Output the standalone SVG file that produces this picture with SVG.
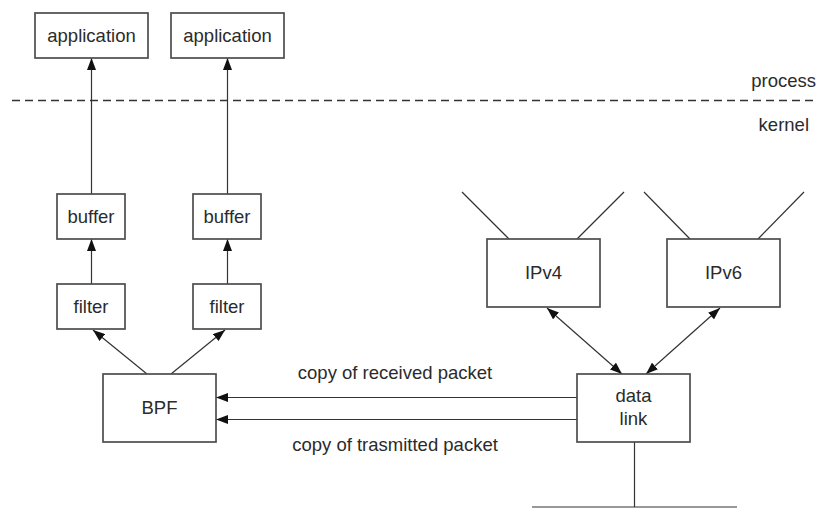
<svg xmlns="http://www.w3.org/2000/svg" width="817" height="508" viewBox="0 0 817 508">
  <style>
    .box { fill: #ffffff; stroke: #4d4d4d; stroke-width: 1.7; }
    .lbl { font-family: "Liberation Sans", Arial, sans-serif; font-size: 18.5px; fill: #2b2b2b; text-anchor: middle; }
    .side { font-family: "Liberation Sans", Arial, sans-serif; font-size: 18.5px; fill: #2b2b2b; text-anchor: end; }
    .wire { stroke: #333333; stroke-width: 1.2; fill: none; }
    .arrow { stroke: #333333; stroke-width: 1.2; fill: none; marker-end: url(#head); }
    .both { stroke: #333333; stroke-width: 1.2; fill: none; marker-start: url(#head); marker-end: url(#head); }
  </style>
  <defs>
    <marker id="head" viewBox="0 0 12 9" refX="12" refY="4.5" markerWidth="12" markerHeight="9" markerUnits="userSpaceOnUse" orient="auto-start-reverse">
      <path d="M0,0 L12,4.5 L0,9 z" fill="#111111"/>
    </marker>
  </defs>

  <rect width="817" height="508" fill="#ffffff"/>

  <!-- process / kernel boundary -->
  <g id="boundary">
    <line x1="12" y1="100.5" x2="817" y2="100.5" stroke="#333333" stroke-width="1.4" stroke-dasharray="8,5"/>
    <text class="side" x="816" y="87">process</text>
    <text class="side" x="809" y="131">kernel</text>
  </g>

  <!-- connectors -->
  <g id="connectors">
    <line class="arrow" x1="91.5" y1="194" x2="91.5" y2="58"/>
    <line class="arrow" x1="227.5" y1="194" x2="227.5" y2="58"/>
    <line class="arrow" x1="91.5" y1="284" x2="91.5" y2="239"/>
    <line class="arrow" x1="227.5" y1="284" x2="227.5" y2="239"/>
    <line class="arrow" x1="147" y1="374" x2="93" y2="330"/>
    <line class="arrow" x1="171" y1="374" x2="225" y2="330"/>
    <line class="arrow" x1="577" y1="397.5" x2="216" y2="397.5"/>
    <line class="arrow" x1="577" y1="419.5" x2="216" y2="419.5"/>
    <line class="both" x1="547" y1="308" x2="622" y2="374"/>
    <line class="both" x1="720" y1="308" x2="646" y2="374"/>
    <line class="wire" x1="509" y1="239" x2="462" y2="192"/>
    <line class="wire" x1="577" y1="239" x2="624" y2="192"/>
    <line class="wire" x1="690" y1="239" x2="644" y2="192"/>
    <line class="wire" x1="758" y1="239" x2="804" y2="192"/>
    <line class="wire" x1="634.5" y1="442" x2="634.5" y2="507"/>
    <line class="wire" x1="532" y1="507" x2="737" y2="507"/>
  </g>

  <g id="app1"><rect class="box" x="35" y="13" width="113" height="45"/><text class="lbl" x="91.5" y="42">application</text></g>
  <g id="app2"><rect class="box" x="171" y="13" width="113" height="45"/><text class="lbl" x="227.5" y="42">application</text></g>
  <g id="buffer1"><rect class="box" x="57" y="194" width="68" height="45"/><text class="lbl" x="91" y="222.5">buffer</text></g>
  <g id="buffer2"><rect class="box" x="193" y="194" width="68" height="45"/><text class="lbl" x="227" y="222.5">buffer</text></g>
  <g id="filter1"><rect class="box" x="57" y="284" width="68" height="45"/><text class="lbl" x="91" y="312.5">filter</text></g>
  <g id="filter2"><rect class="box" x="193" y="284" width="68" height="45"/><text class="lbl" x="227" y="312.5">filter</text></g>
  <g id="bpf"><rect class="box" x="103" y="374" width="113" height="68"/><text class="lbl" x="159.5" y="414">BPF</text></g>
  <g id="ipv4"><rect class="box" x="487" y="239" width="113" height="68"/><text class="lbl" x="543.5" y="279">IPv4</text></g>
  <g id="ipv6"><rect class="box" x="667" y="239" width="113" height="68"/><text class="lbl" x="723.5" y="279">IPv6</text></g>
  <g id="datalink"><rect class="box" x="577" y="374" width="113" height="68"/><text class="lbl" x="633.5" y="402">data</text><text class="lbl" x="633.5" y="424.5">link</text></g>

  <g id="labels">
    <text class="lbl" x="395" y="378.5">copy of received packet</text>
    <text class="lbl" x="395" y="451">copy of trasmitted packet</text>
  </g>
</svg>
